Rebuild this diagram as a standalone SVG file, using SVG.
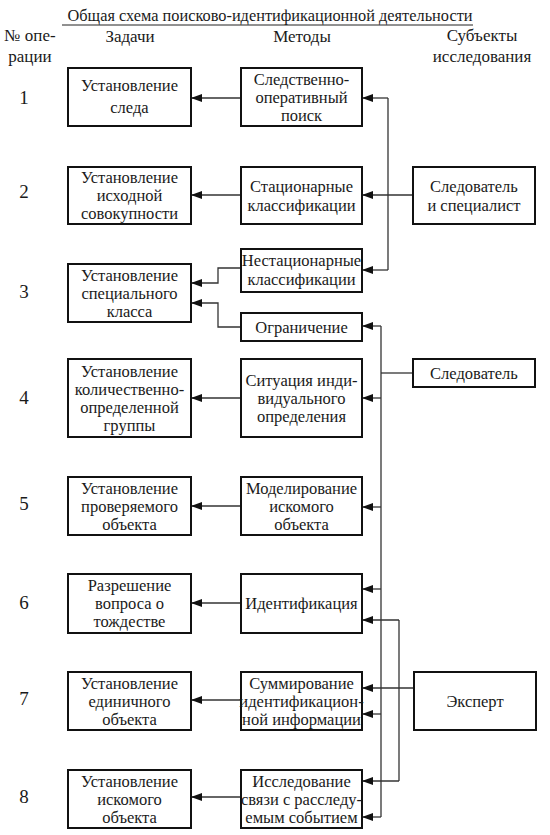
<svg xmlns="http://www.w3.org/2000/svg" width="550" height="835" viewBox="0 0 550 835">
<style>
text{font-family:"Liberation Serif","DejaVu Serif",serif;font-size:16.5px;fill:#1a1a1a;text-anchor:middle}
.box{fill:#fff;stroke:#111;stroke-width:2}
.c{fill:none;stroke:#333;stroke-width:1.3}
.num{font-size:19px}
.hdr{font-size:17px}
</style>
<defs>
<marker id="ah" markerUnits="userSpaceOnUse" markerWidth="12" markerHeight="8" refX="11" refY="4" orient="auto">
<path d="M0,0 L11,4 L0,8 Z" fill="#111"/>
</marker>
</defs>
<rect width="550" height="835" fill="#fff"/>
<g id="title">
<text x="270" y="21" class="hdr" textLength="405" lengthAdjust="spacingAndGlyphs">Общая схема поисково-идентификационной деятельности</text>
<line x1="62" y1="25" x2="473" y2="25" stroke="#222" stroke-width="1"/>
</g>
<g id="headers">
<text x="30" y="41" class="hdr">№ опе-</text>
<text x="30" y="62" class="hdr">рации</text>
<text x="130" y="42" class="hdr">Задачи</text>
<text x="302" y="42" class="hdr">Методы</text>
<text x="482" y="41" class="hdr">Субъекты</text>
<text x="482" y="62" class="hdr">исследования</text>
</g>
<g id="numbers">
<text class="num" x="24" y="104">1</text>
<text class="num" x="24" y="198">2</text>
<text class="num" x="24" y="298">3</text>
<text class="num" x="24" y="404">4</text>
<text class="num" x="24" y="510">5</text>
<text class="num" x="24" y="609">6</text>
<text class="num" x="24" y="705">7</text>
<text class="num" x="24" y="803">8</text>
</g>
<g id="connectors">
<path class="c" d="M241,98 H191" marker-end="url(#ah)"/>
<path class="c" d="M241,195 H191" marker-end="url(#ah)"/>
<path class="c" d="M241,268 H218 V283 H191" marker-end="url(#ah)"/>
<path class="c" d="M241,327 H218 V303 H191" marker-end="url(#ah)"/>
<path class="c" d="M241,398 H191" marker-end="url(#ah)"/>
<path class="c" d="M241,506 H191" marker-end="url(#ah)"/>
<path class="c" d="M241,603 H191" marker-end="url(#ah)"/>
<path class="c" d="M241,700 H191" marker-end="url(#ah)"/>
<path class="c" d="M241,797 H191" marker-end="url(#ah)"/>
<path class="c" d="M388,98 V270"/>
<path class="c" d="M413,195 H362" marker-end="url(#ah)"/>
<path class="c" d="M388,98 H362" marker-end="url(#ah)"/>
<path class="c" d="M388,270 H362" marker-end="url(#ah)"/>
<path class="c" d="M381,326 V817"/>
<path class="c" d="M413,373 H381"/>
<path class="c" d="M381,326 H362" marker-end="url(#ah)"/>
<path class="c" d="M381,398 H362" marker-end="url(#ah)"/>
<path class="c" d="M381,507 H362" marker-end="url(#ah)"/>
<path class="c" d="M381,589 H362" marker-end="url(#ah)"/>
<path class="c" d="M381,714 H362" marker-end="url(#ah)"/>
<path class="c" d="M381,817 H362" marker-end="url(#ah)"/>
<path class="c" d="M399,620 V781"/>
<path class="c" d="M414,688 H362" marker-end="url(#ah)"/>
<path class="c" d="M399,620 H362" marker-end="url(#ah)"/>
<path class="c" d="M399,781 H362" marker-end="url(#ah)"/>
</g>
<g id="t1"><rect class="box" x="68" y="68" width="123" height="58"/><text x="129.5" y="91">Установление</text><text x="129.5" y="113">следа</text></g>
<g id="t2"><rect class="box" x="68" y="167" width="123" height="57"/><text x="129.5" y="183">Установление</text><text x="129.5" y="201">исходной</text><text x="129.5" y="219">совокупности</text></g>
<g id="t3"><rect class="box" x="68" y="264" width="123" height="58"/><text x="129.5" y="281">Установление</text><text x="129.5" y="299">специального</text><text x="129.5" y="317">класса</text></g>
<g id="t4"><rect class="box" x="68" y="359" width="123" height="78"/><text x="129.5" y="377">Установление</text><text x="129.5" y="395">количественно-</text><text x="129.5" y="413">определенной</text><text x="129.5" y="431">группы</text></g>
<g id="t5"><rect class="box" x="68" y="477" width="123" height="58"/><text x="129.5" y="494">Установление</text><text x="129.5" y="512">проверяемого</text><text x="129.5" y="530">объекта</text></g>
<g id="t6"><rect class="box" x="68" y="574" width="123" height="59"/><text x="129.5" y="591">Разрешение</text><text x="129.5" y="609">вопроса о</text><text x="129.5" y="627">тождестве</text></g>
<g id="t7"><rect class="box" x="68" y="672" width="123" height="58"/><text x="129.5" y="689">Установление</text><text x="129.5" y="707">единичного</text><text x="129.5" y="725">объекта</text></g>
<g id="t8"><rect class="box" x="68" y="770" width="123" height="58"/><text x="129.5" y="787">Установление</text><text x="129.5" y="805">искомого</text><text x="129.5" y="823">объекта</text></g>
<g id="m1"><rect class="box" x="241" y="68" width="121" height="58"/><text x="301.5" y="85">Следственно-</text><text x="301.5" y="103">оперативный</text><text x="301.5" y="121">поиск</text></g>
<g id="m2"><rect class="box" x="241" y="167" width="121" height="57"/><text x="301.5" y="192">Стационарные</text><text x="301.5" y="211">классификации</text></g>
<g id="m3"><rect class="box" x="241" y="249" width="121" height="43"/><text x="301.5" y="266">Нестационарные</text><text x="301.5" y="285">классификации</text></g>
<g id="m4"><rect class="box" x="241" y="313" width="121" height="28"/><text x="301.5" y="333">Ограничение</text></g>
<g id="m5"><rect class="box" x="241" y="359" width="121" height="78"/><text x="301.5" y="386">Ситуация инди-</text><text x="301.5" y="404">видуального</text><text x="301.5" y="422">определения</text></g>
<g id="m6"><rect class="box" x="241" y="477" width="121" height="58"/><text x="301.5" y="494">Моделирование</text><text x="301.5" y="512">искомого</text><text x="301.5" y="530">объекта</text></g>
<g id="m7"><rect class="box" x="241" y="574" width="121" height="59"/><text x="301.5" y="609">Идентификация</text></g>
<g id="m8"><rect class="box" x="241" y="672" width="121" height="58"/><text x="301.5" y="689">Суммирование</text><text x="301.5" y="707">идентификацион-</text><text x="301.5" y="725">ной информации</text></g>
<g id="m9"><rect class="box" x="241" y="770" width="121" height="58"/><text x="301.5" y="787">Исследование</text><text x="301.5" y="805">связи с расследу-</text><text x="301.5" y="823">емым событием</text></g>
<g id="s1"><rect class="box" x="413" y="167" width="122" height="57"/><text x="474" y="192">Следователь</text><text x="474" y="211">и специалист</text></g>
<g id="s2"><rect class="box" x="413" y="359" width="122" height="28"/><text x="474" y="379">Следователь</text></g>
<g id="s3"><rect class="box" x="414" y="672" width="122" height="58"/><text x="475" y="707">Эксперт</text></g>
</svg>
